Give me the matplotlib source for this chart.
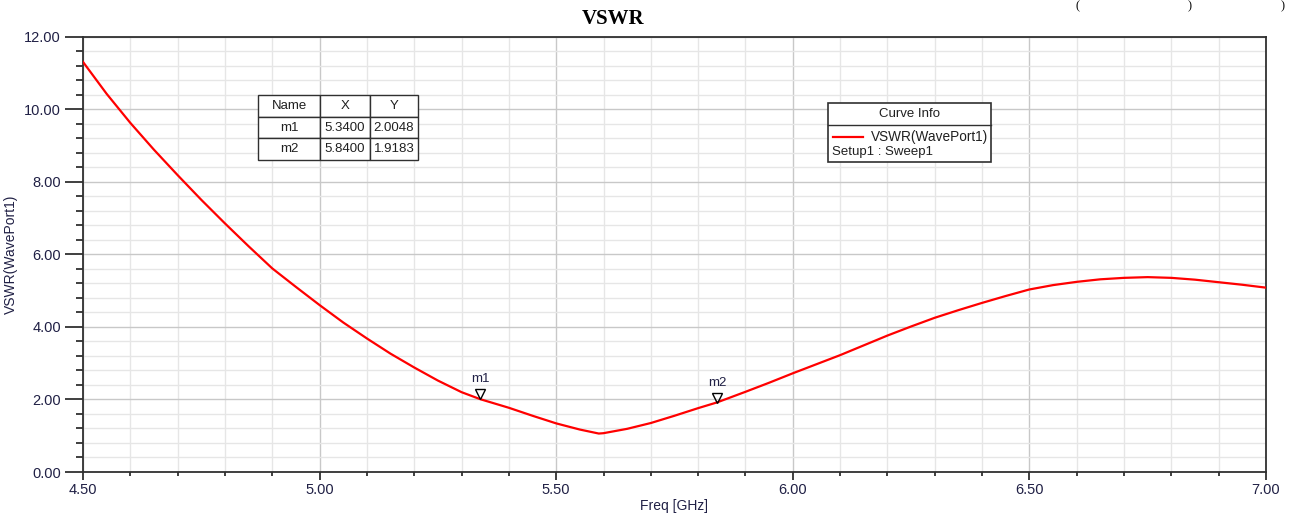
import matplotlib.pyplot as plt
import matplotlib.transforms as mtransforms
from matplotlib.ticker import MultipleLocator

# VSWR kurve lest av bildet
freq = [4.50, 4.55, 4.60, 4.65, 4.70, 4.75, 4.80, 4.85, 4.90, 4.95, 5.00, 5.05, 5.10,
        5.15, 5.20, 5.25, 5.30, 5.34, 5.40, 5.45, 5.50, 5.55, 5.59, 5.60, 5.65, 5.70,
        5.75, 5.80, 5.84, 5.90, 5.95, 6.00, 6.05, 6.10, 6.15, 6.20, 6.25, 6.30, 6.35,
        6.40, 6.45, 6.50, 6.55, 6.60, 6.65, 6.70, 6.75, 6.80, 6.85, 6.90, 6.95, 7.00]
vswr = [11.30, 10.42, 9.62, 8.88, 8.18, 7.50, 6.85, 6.22, 5.61, 5.10, 4.60, 4.12, 3.68,
        3.26, 2.88, 2.52, 2.20, 2.0048, 1.77, 1.55, 1.34, 1.17, 1.06, 1.07, 1.19, 1.35,
        1.55, 1.76, 1.9183, 2.21, 2.46, 2.72, 2.97, 3.22, 3.49, 3.76, 4.01, 4.25, 4.46,
        4.66, 4.85, 5.03, 5.15, 5.24, 5.31, 5.35, 5.37, 5.35, 5.30, 5.23, 5.16, 5.08]

# markører
marker_navn = ["m1", "m2"]
marker_x = [5.34, 5.84]
marker_y = [2.0048, 1.9183]

tekstfarge = "#202045"

plt.rcParams["font.family"] = ["Liberation Sans", "DejaVu Sans"]

fig = plt.figure(figsize=(12.91, 5.13), dpi=100)
ax = fig.add_axes([0.0643, 0.0799, 0.9163, 0.8489])

ax.plot(freq, vswr, color="red", linewidth=1.6, zorder=3)

ax.set_xlim(4.5, 7.0)
ax.set_ylim(0, 12)
ax.xaxis.set_major_locator(MultipleLocator(0.5))
ax.xaxis.set_minor_locator(MultipleLocator(0.1))
ax.yaxis.set_major_locator(MultipleLocator(2))
ax.yaxis.set_minor_locator(MultipleLocator(0.4))
ax.xaxis.set_major_formatter(lambda v, p: "%.2f" % v)
ax.yaxis.set_major_formatter(lambda v, p: "%.2f" % v)

ax.grid(which="major", color="#c8c8c8", linewidth=1.0, zorder=0)
ax.grid(which="minor", color="#e6e6e6", linewidth=1.0, zorder=0)
ax.set_axisbelow(True)

for s in ax.spines.values():
    s.set_color("#303030")
    s.set_linewidth(1.3)

ax.tick_params(axis="y", which="major", length=13, width=1.3, color="#303030",
               labelsize=10.5, labelcolor=tekstfarge, pad=3)
ax.tick_params(axis="y", which="minor", length=5, width=1.3, color="#303030")
ax.tick_params(axis="x", which="major", length=6, width=1.3, color="#303030",
               labelsize=10.5, labelcolor=tekstfarge, pad=2)
ax.tick_params(axis="x", which="minor", length=3, width=1.3, color="#303030")

ax.set_xlabel("Freq [GHz]", fontsize=10, color=tekstfarge, labelpad=1)
ax.set_ylabel("VSWR(WavePort1)", fontsize=10, color=tekstfarge, labelpad=4)

fig.text(613 / 1291, 1 - 19 / 513, "VSWR", family="Liberation Serif", weight="bold",
         fontsize=15, ha="center", va="center")

# avkuttet tekst øverst til høyre
for px, tegn in [(1078, "("), (1190, ")"), (1283, ")")]:
    fig.text(px / 1291, 1.0, tegn, family="Liberation Serif",
             fontsize=9, ha="center", va="top")

# markører på kurven
opp = mtransforms.ScaledTranslation(0, 3.5 / 72, fig.dpi_scale_trans)
for n, mx, my in zip(marker_navn, marker_x, marker_y):
    ax.plot(mx, my, marker="v", markersize=7, markerfacecolor="none",
            markeredgecolor="black", markeredgewidth=1.0, zorder=4,
            transform=ax.transData + opp)
    ax.annotate(n, (mx, my), xytext=(0, 10), textcoords="offset points",
                fontsize=9.5, color=tekstfarge, ha="center", va="bottom")

# markørtabell
celler = [[n, "%.4f" % x, "%.4f" % y] for n, x, y in zip(marker_navn, marker_x, marker_y)]
tab = ax.table(cellText=celler, colLabels=["Name", "X", "Y"], cellLoc="center",
               bbox=[0.148, 0.716, 0.135, 0.150], colWidths=[62, 50, 48])
tab.auto_set_font_size(False)
for (r, c), cell in tab.get_celld().items():
    cell.set_fontsize(9.5)
    cell.set_edgecolor("#303030")
    cell.set_linewidth(1.0)
    cell.set_facecolor("white")
    cell.get_text().set_color("#202020")
tab.set_zorder(5)

# Curve Info boks
x0, x1 = 0.630, 0.7675
ytop, ybunn, ylinje = 0.847, 0.712, 0.797
ax.add_patch(plt.Rectangle((x0, ybunn), x1 - x0, ytop - ybunn, transform=ax.transAxes,
                           facecolor="white", edgecolor="#303030", linewidth=1.2, zorder=5))
ax.plot([x0, x1], [ylinje, ylinje], transform=ax.transAxes, color="#303030",
        linewidth=1.0, zorder=6)
ax.text((x0 + x1) / 2, (ytop + ylinje) / 2, "Curve Info", transform=ax.transAxes,
        fontsize=9.5, ha="center", va="center", color="#202020", zorder=6)
ax.plot([x0 + 0.004, x0 + 0.029], [0.770, 0.770], transform=ax.transAxes, color="red",
        linewidth=1.6, zorder=6)
ax.text(x0 + 0.036, 0.770, "VSWR(WavePort1)", transform=ax.transAxes,
        fontsize=9.8, ha="left", va="center", color="#202020", zorder=6)
ax.text(x0 + 0.003, 0.735, "Setup1 : Sweep1", transform=ax.transAxes,
        fontsize=9.5, ha="left", va="center", color="#202020", zorder=6)

plt.savefig("out.png", dpi=100)
